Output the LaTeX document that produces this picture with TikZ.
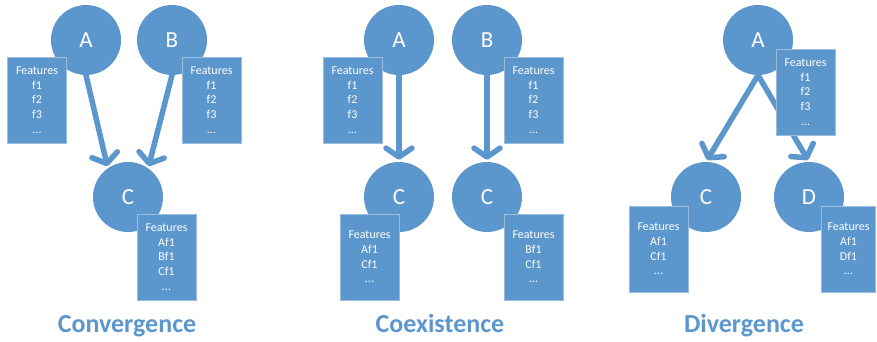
\documentclass[tikz,border=0pt]{standalone}
\usepackage{fontspec}
\setmainfont{Carlito}
\usepackage{tikz}
\usetikzlibrary{arrows.meta,positioning}
\definecolor{nodeblue}{RGB}{91,150,205}
\definecolor{boxline}{RGB}{155,188,224}

\begin{document}
\begin{tikzpicture}[
    x=1pt, y=-1pt,
    node distance=60pt,
    entity/.style={circle, fill=nodeblue, text=white, minimum size=70pt, inner sep=0pt, font=\fontsize{23}{23}\selectfont},
    feat/.style={rectangle, draw=boxline, line width=0.8pt, fill=nodeblue, text=white, minimum width=59pt, minimum height=86pt, inner sep=2pt, align=center, font=\fontsize{12}{14.6}\selectfont},
    link/.style={draw=nodeblue, line width=5.5pt, line cap=round, shorten >=2pt, -{Straight Barb[length=9pt,width=26pt,round]}},
    caption/.style={anchor=base, text=nodeblue, font=\fontsize{26}{26}\selectfont\bfseries}
]
    \useasboundingbox (0,0) rectangle (877,342);

    % Convergence
    \node [entity] (convA) at (86,40) {A};
    \node [entity] (convB) at (172,40) {B};
    \node [entity] (convC) at (128,197) {C};
    \draw [link] (convA.south) -- (convC.125);
    \draw [link] (convB.south) -- (convC.55);
    \node [feat, below of=convA, xshift=-49pt] (convFA) {Features\\f1\\f2\\f3\\...};
    \node [feat, below of=convB, xshift=39.5pt] (convFB) {Features\\f1\\f2\\f3\\...};
    \node [feat, below of=convC, xshift=38.5pt] (convFC) {Features\\Af1\\Bf1\\Cf1\\...};
    \node [caption] (convTitle) at (127,332) {Convergence};

    % Coexistence
    \node [entity] (coexA) at (399,40) {A};
    \node [entity] (coexB) at (487,40) {B};
    \node [entity] (coexCa) at (399,197) {C};
    \node [entity] (coexCb) at (487,197) {C};
    \draw [link] (coexA.south) -- (coexCa.north);
    \draw [link] (coexB.south) -- (coexCb.north);
    \node [feat, below of=coexA, xshift=-46.5pt] (coexFA) {Features\\f1\\f2\\f3\\...};
    \node [feat, below of=coexB, xshift=46.5pt] (coexFB) {Features\\f1\\f2\\f3\\...};
    \node [feat, below of=coexCa, xshift=-29.5pt] (coexFCa) {Features\\Af1\\Cf1\\...};
    \node [feat, below of=coexCb, xshift=46.5pt] (coexFCb) {Features\\Bf1\\Cf1\\...};
    \node [caption] (coexTitle) at (440,332) {Coexistence};

    % Divergence
    \node [entity] (divA) at (758,40) {A};
    \node [entity] (divC) at (706,197) {C};
    \node [entity] (divD) at (809,197) {D};
    \draw [link] (divA.south) -- (divC.north);
    \draw [link] (divA.south) -- (divD.north);
    \node [feat, below of=divA, xshift=47.5pt, yshift=8pt] (divFA) {Features\\f1\\f2\\f3\\...};
    \node [feat, below of=divC, xshift=-47.5pt, yshift=8pt] (divFC) {Features\\Af1\\Cf1\\...};
    \node [feat, below of=divD, xshift=39.5pt, yshift=8pt, minimum width=54pt] (divFD) {Features\\Af1\\Df1\\...};
    \node [caption] (divTitle) at (744,332) {Divergence};
\end{tikzpicture}
\end{document}
